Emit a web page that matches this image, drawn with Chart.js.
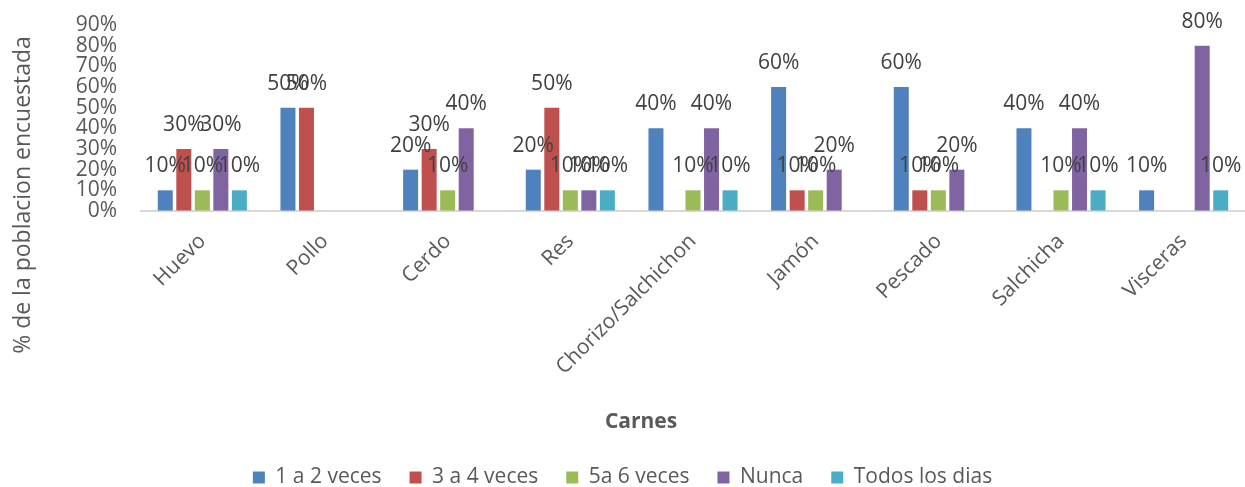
<!DOCTYPE html>
<html>
<head>
<meta charset="utf-8">
<script src="https://cdn.jsdelivr.net/npm/chart.js@4/dist/chart.umd.min.js"></script>
<style>
	html, body { margin: 0; padding: 0; background: #fff; }
	#wrap { width: 1245px; height: 487px; }
</style>
</head>
<body>
<div id="wrap"><canvas id="chart"></canvas></div>
<script>
const categories = ['Huevo', 'Pollo', 'Cerdo', 'Res', 'Chorizo/Salchichon', 'Jamón', 'Pescado', 'Salchicha', 'Visceras'];
const seriesNames = ['1 a 2 veces', '3 a 4 veces', '5a 6 veces', 'Nunca', 'Todos los dias'];
const seriesColors = ['#4F81BD', '#C0504D', '#9BBB59', '#8064A2', '#4BACC6'];

// percent of respondents, one array per frequency
const unoADos = [10, 50, 20, 20, 40, 60, 60, 40, 10];
const tresACuatro = [30, 50, 30, 50, 0, 10, 10, 0, 0];
const cincoASeis = [10, 0, 10, 10, 10, 10, 10, 10, 0];
const nunca = [30, 0, 40, 10, 40, 20, 20, 40, 80];
const todosLosDias = [10, 0, 0, 10, 10, 0, 0, 10, 10];

const yTicks = [0, 10, 20, 30, 40, 50, 60, 70, 80, 90];

const FONT = '"Open Sans", sans-serif';
const GREY = '#595959';

// value labels above each non-zero bar
const barLabels = {
	id: 'barLabels',
	afterDatasetsDraw(chart) {
		const ctx = chart.ctx;
		ctx.save();
		ctx.font = '21px ' + FONT;
		ctx.fillStyle = '#404040';
		ctx.textAlign = 'center';
		ctx.textBaseline = 'middle';
		chart.data.datasets.forEach((ds, i) => {
			chart.getDatasetMeta(i).data.forEach((bar, j) => {
				if (!ds.data[j]) return;
				ctx.fillText(ds.data[j] + '%', bar.x, bar.y - 24);
			});
		});
		ctx.restore();
	}
};

// axis titles
const axisTitles = {
	id: 'axisTitles',
	afterDraw(chart) {
		const ctx = chart.ctx;
		ctx.save();
		ctx.fillStyle = GREY;
		ctx.textAlign = 'center';
		ctx.textBaseline = 'middle';
		ctx.font = '23px ' + FONT;
		ctx.translate(23, 195);
		ctx.rotate(-Math.PI / 2);
		ctx.fillText('% de la poblacion encuestada', 0, 0);
		ctx.restore();

		ctx.save();
		ctx.fillStyle = GREY;
		ctx.textAlign = 'center';
		ctx.textBaseline = 'middle';
		ctx.font = 'bold 21px ' + FONT;
		ctx.fillText('Carnes', 641, 422);
		ctx.restore();
	}
};

const sets = [unoADos, tresACuatro, cincoASeis, nunca, todosLosDias];

new Chart(document.getElementById('chart'), {
	type: 'bar',
	data: {
		labels: categories,
		datasets: sets.map((values, i) => ({
			label: seriesNames[i],
			data: values,
			backgroundColor: seriesColors[i],
			barPercentage: 0.81,
			categoryPercentage: 0.755
		}))
	},
	options: {
		responsive: true,
		maintainAspectRatio: false,
		animation: false,
		layout: { padding: { top: 25, left: 0, right: 0, bottom: -11 } },
		plugins: {
			tooltip: { enabled: false },
			legend: {
				position: 'bottom',
				labels: {
					font: { family: FONT, size: 21 },
					color: GREY,
					boxWidth: 12,
					boxHeight: 12,
					padding: 28
				}
			}
		},
		scales: {
			x: {
				grid: { display: false },
				border: { color: '#D9D9D9', width: 2 },
				ticks: {
					color: GREY,
					font: { family: FONT, size: 21 },
					minRotation: 45,
					maxRotation: 45,
					padding: 10
				},
				afterFit(scale) { scale.height = 228; }
			},
			y: {
				min: 0,
				max: 90,
				// invisible tick marks only push the labels away from the plot
				grid: { color: 'transparent', drawOnChartArea: false, drawTicks: true, tickLength: 24 },
				border: { display: false },
				afterBuildTicks(scale) { scale.ticks = yTicks.map(v => ({ value: v })); },
				ticks: {
					color: GREY,
					font: { family: FONT, size: 21 },
					padding: 0,
					autoSkip: false,
					callback: v => v + '%'
				},
				afterFit(scale) { scale.width = 141; }
			}
		}
	},
	plugins: [barLabels, axisTitles]
});
</script>
</body>
</html>
